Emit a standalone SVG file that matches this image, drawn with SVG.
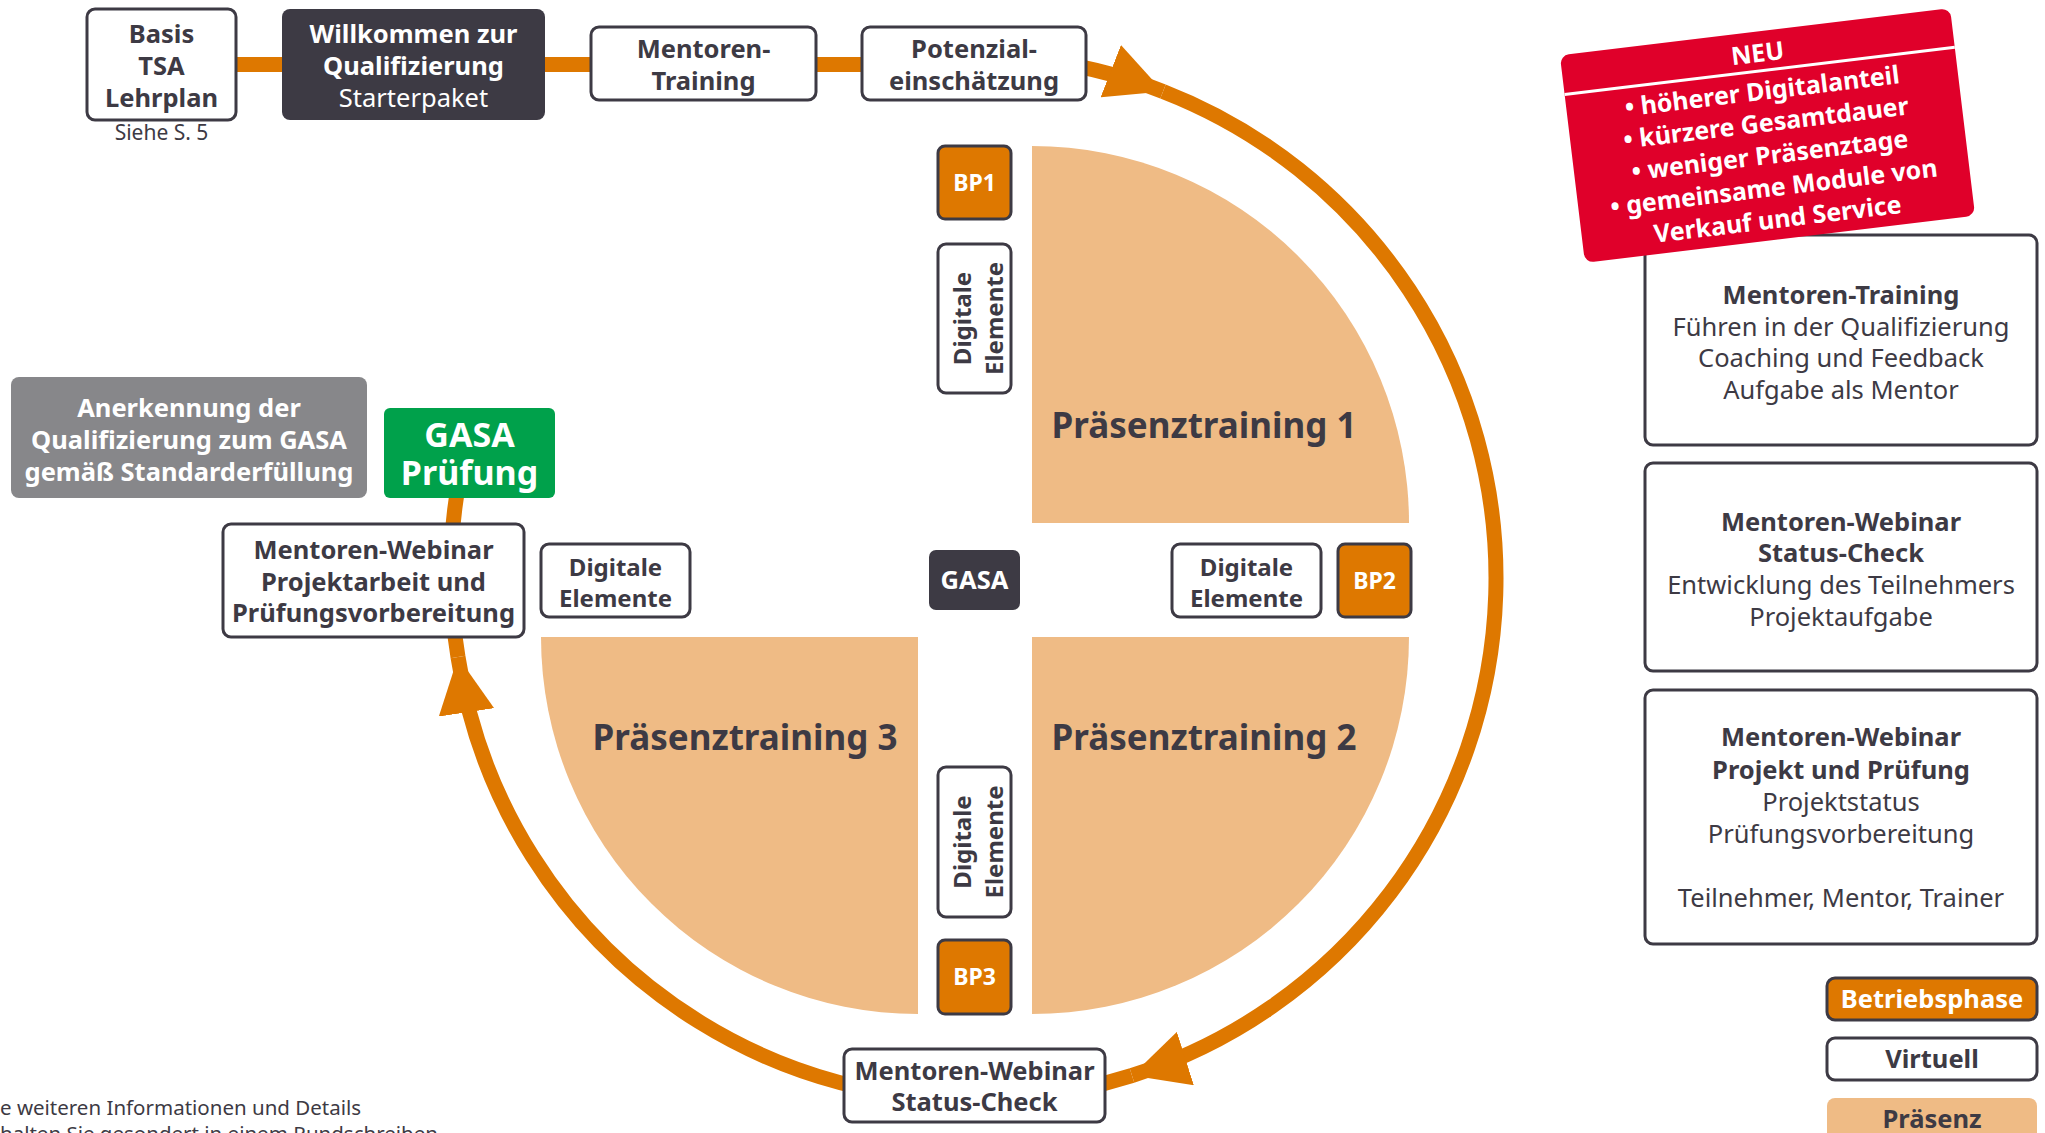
<svg xmlns="http://www.w3.org/2000/svg" width="2045" height="1133" viewBox="0 0 2045 1133">
<defs>
<style>
.t{font-family:"Noto Sans","Open Sans","DejaVu Sans",sans-serif;fill:#3D3A44;text-anchor:middle;font-size:25.5px}
.b{font-weight:700}
.w{fill:#fff}
.s24{font-size:24px}
.box{fill:#fff;stroke:#3D3A44;stroke-width:3}
.bp{fill:#DE7800;stroke:#3D3A44;stroke-width:3}
.dk{fill:#3D3A44}
.pr{fill:#EFBB85}
.ring{fill:none;stroke:#DE7800;stroke-width:15}
</style>
<marker id="ah" markerUnits="userSpaceOnUse" markerWidth="56" markerHeight="56" viewBox="0 0 56 56" refX="56" refY="28" orient="auto"><path d="M0,0 L56,28 L0,56 Z" fill="#DE7800"/></marker>
</defs>
<rect width="2045" height="1133" fill="#fff"/>

<g id="sectors">
<g id="praesenz1"><path class="pr" d="M1032,523 V146 A377,377 0 0 1 1409,523 Z"/><text class="t b" style="font-size:35px" x="1204" y="438">Präsenztraining 1</text></g>
<g id="praesenz2"><path class="pr" d="M1032,637 H1409 A377,377 0 0 1 1032,1014 Z"/><text class="t b" style="font-size:35px" x="1204" y="750">Präsenztraining 2</text></g>
<g id="praesenz3"><path class="pr" d="M918,637 V1014 A377,377 0 0 1 541,637 Z"/><text class="t b" style="font-size:35px" x="745" y="750">Präsenztraining 3</text></g>
</g>

<g id="connectors">
<path class="ring" d="M236,64.5 H880 A522,522 0 0 1 1163,91.4" marker-end="url(#ah)"/>
<path class="ring" d="M1163,91.4 A522,522 0 0 1 1132,1075.5" marker-end="url(#ah)"/>
<path class="ring" d="M1132,1075.5 A522,522 0 0 1 458,657" marker-end="url(#ah)"/>
<path class="ring" d="M458,657 A522,522 0 0 1 461,470"/>
</g>

<g id="basis">
<rect class="box" x="87" y="9" width="149" height="111" rx="8"/>
<text class="t b" x="161.5" y="43">Basis</text>
<text class="t b" x="161.5" y="75">TSA</text>
<text class="t b" x="161.5" y="107">Lehrplan</text>
<text class="t" style="font-size:21px" x="161.5" y="140">Siehe S. 5</text>
</g>
<g id="willkommen">
<rect class="dk" x="282" y="9" width="263" height="111" rx="8"/>
<text class="t b w" x="413.5" y="43">Willkommen zur</text>
<text class="t b w" x="413.5" y="75">Qualifizierung</text>
<text class="t w" x="413.5" y="107">Starterpaket</text>
</g>
<g id="mentoren-training-top">
<rect class="box" x="591" y="27" width="225" height="73" rx="8"/>
<text class="t b" x="703.5" y="58">Mentoren-</text>
<text class="t b" x="703.5" y="90">Training</text>
</g>
<g id="potenzial">
<rect class="box" x="862" y="27" width="224" height="73" rx="8"/>
<text class="t b" x="974" y="58">Potenzial-</text>
<text class="t b" x="974" y="90">einschätzung</text>
</g>

<g id="anerkennung">
<rect x="11" y="377" width="356" height="121" rx="8" fill="#87878A"/>
<text class="t b w" x="189" y="417">Anerkennung der</text>
<text class="t b w" x="189" y="449">Qualifizierung zum GASA</text>
<text class="t b w" x="189" y="481">gemäß Standarderfüllung</text>
</g>
<g id="gasa-pruefung">
<rect x="384" y="408" width="171" height="90" rx="6" fill="#00A14B"/>
<text class="t b w" style="font-size:34px"><tspan x="469.5" y="447">GASA</tspan><tspan x="469.5" y="485">Prüfung</tspan></text>
</g>
<g id="webinar-projektarbeit">
<rect class="box" x="223" y="524" width="301" height="113" rx="8"/>
<text class="t b" x="373.5" y="559">Mentoren-Webinar</text>
<text class="t b" x="373.5" y="591">Projektarbeit und</text>
<text class="t b" x="373.5" y="622">Prüfungsvorbereitung</text>
</g>
<g id="digital-left">
<rect class="box" x="541" y="544" width="149" height="73" rx="8"/>
<text class="t b s24" x="615.5" y="576">Digitale</text>
<text class="t b s24" x="615.5" y="607">Elemente</text>
</g>

<g id="bp1">
<rect class="bp" x="938" y="146" width="73" height="73" rx="7"/>
<text class="t b w" style="font-size:23px" x="974.5" y="191">BP1</text>
</g>
<g id="digital-top">
<rect class="box" x="938" y="244" width="73" height="149" rx="8"/>
<text class="t b s24" transform="translate(974.5,318.5) rotate(-90)"><tspan x="0" y="-4">Digitale</tspan><tspan x="0" y="28">Elemente</tspan></text>
</g>
<g id="gasa">
<rect class="dk" x="929" y="550" width="91" height="60" rx="7"/>
<text class="t b w" x="974.5" y="589">GASA</text>
</g>
<g id="digital-right">
<rect class="box" x="1172" y="544" width="149" height="73" rx="8"/>
<text class="t b s24" x="1246.5" y="576">Digitale</text>
<text class="t b s24" x="1246.5" y="607">Elemente</text>
</g>
<g id="bp2">
<rect class="bp" x="1338" y="544" width="73" height="73" rx="7"/>
<text class="t b w" style="font-size:23px" x="1374.5" y="589">BP2</text>
</g>
<g id="digital-bottom">
<rect class="box" x="938" y="767" width="73" height="150" rx="8"/>
<text class="t b s24" transform="translate(974.5,842) rotate(-90)"><tspan x="0" y="-4">Digitale</tspan><tspan x="0" y="28">Elemente</tspan></text>
</g>
<g id="bp3">
<rect class="bp" x="938" y="940" width="73" height="74" rx="7"/>
<text class="t b w" style="font-size:23px" x="974.5" y="985">BP3</text>
</g>
<g id="webinar-status-bottom">
<rect class="box" x="844" y="1049" width="261" height="73" rx="8"/>
<text class="t b" x="974.5" y="1080">Mentoren-Webinar</text>
<text class="t b" x="974.5" y="1111">Status-Check</text>
</g>

<g id="info-mentoren-training">
<rect class="box" x="1645" y="235" width="392" height="210" rx="8"/>
<text class="t b" x="1841" y="304">Mentoren-Training</text>
<text class="t" x="1841" y="336">Führen in der Qualifizierung</text>
<text class="t" x="1841" y="367">Coaching und Feedback</text>
<text class="t" x="1841" y="399">Aufgabe als Mentor</text>
</g>
<g id="neu" transform="translate(1767.5,135.5) rotate(-6.9)">
<rect x="-196.5" y="-104.5" width="393" height="209" rx="9" fill="#E0002A"/>
<line x1="-196.5" y1="-65" x2="196.5" y2="-65" stroke="#fff" stroke-width="3"/>
<text class="t b w" style="font-size:25px" x="0" y="-74">NEU</text>
<text class="t b w" style="font-size:25px" x="0" y="-36">• höherer Digitalanteil</text>
<text class="t b w" style="font-size:25px" x="0" y="-4">• kürzere Gesamtdauer</text>
<text class="t b w" style="font-size:25px" x="0" y="28.5">• weniger Präsenztage</text>
<text class="t b w" style="font-size:25px" x="0" y="61">• gemeinsame Module von</text>
<text class="t b w" style="font-size:25px" x="0" y="93">Verkauf und Service</text>
</g>
<g id="info-status-check">
<rect class="box" x="1645" y="463" width="392" height="208" rx="8"/>
<text class="t b" x="1841" y="531">Mentoren-Webinar</text>
<text class="t b" x="1841" y="562">Status-Check</text>
<text class="t" x="1841" y="594">Entwicklung des Teilnehmers</text>
<text class="t" x="1841" y="626">Projektaufgabe</text>
</g>
<g id="info-projekt-pruefung">
<rect class="box" x="1645" y="690" width="392" height="254" rx="8"/>
<text class="t b" x="1841" y="746">Mentoren-Webinar</text>
<text class="t b" x="1841" y="779">Projekt und Prüfung</text>
<text class="t" x="1841" y="811">Projektstatus</text>
<text class="t" x="1841" y="843">Prüfungsvorbereitung</text>
<text class="t" x="1841" y="907">Teilnehmer, Mentor, Trainer</text>
</g>

<g id="legend-betriebsphase">
<rect class="bp" x="1827" y="978" width="210" height="42" rx="8"/>
<text class="t b w" x="1932" y="1008">Betriebsphase</text>
</g>
<g id="legend-virtuell">
<rect class="box" x="1827" y="1038" width="210" height="42" rx="8"/>
<text class="t b" x="1932" y="1068">Virtuell</text>
</g>
<g id="legend-praesenz">
<rect class="pr" x="1827" y="1098" width="210" height="50" rx="8"/>
<text class="t b" x="1932" y="1128">Präsenz</text>
</g>

<g id="footnote">
<text class="t" style="font-size:20.5px;text-anchor:start" x="0" y="1115">e weiteren Informationen und Details</text>
<text class="t" style="font-size:20.5px;text-anchor:start" x="0" y="1141">halten Sie gesondert in einem Rundschreiben</text>
</g>
</svg>
